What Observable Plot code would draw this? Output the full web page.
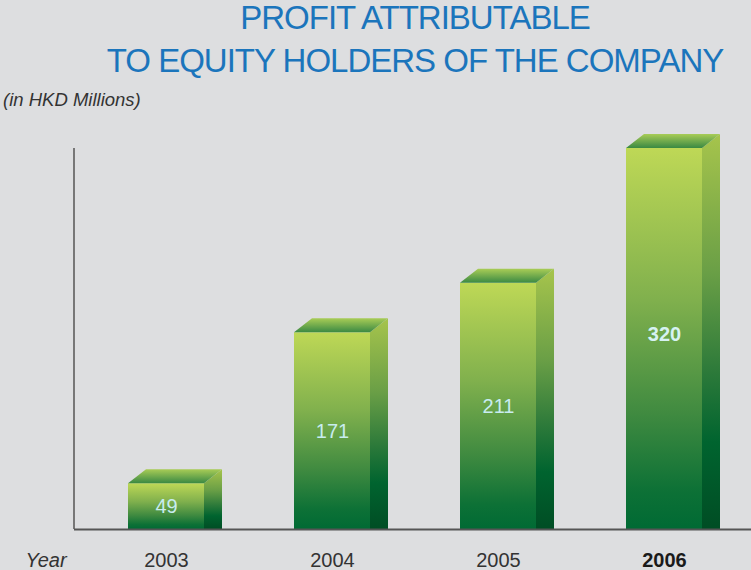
<!DOCTYPE html>
<html>
<head>
<meta charset="utf-8">
<script src="https://cdn.jsdelivr.net/npm/d3@7"></script>
<script src="https://cdn.jsdelivr.net/npm/@observablehq/plot@0.6"></script>
<style>
  html, body { margin: 0; padding: 0; background: #dddee0; }
  #wrap { width: 751px; height: 570px; position: relative; overflow: hidden; background: #dddee0; font-family: "Liberation Sans", Arial, sans-serif; }
  #header { position: relative; height: 115px; }
  .title { position: absolute; left: 415px; transform: translateX(-50%); white-space: nowrap; color: #1b75bc; font-size: 33px; line-height: 33px; letter-spacing: -1px; }
  #sub { position: absolute; left: 3px; top: 91px; font-size: 18.5px; line-height: 18px; font-style: italic; color: #333; white-space: nowrap; }
  #chart svg { display: block; }
</style>
</head>
<body>
<div id="wrap">
  <div id="header">
    <div class="title" style="top:1px">PROFIT ATTRIBUTABLE</div>
    <div class="title" style="top:44px">TO EQUITY HOLDERS OF THE COMPANY</div>
    <div id="sub">(in HKD Millions)</div>
  </div>
  <div id="chart"></div>
</div>
<script>
// ---- data ----
const years = ["2003", "2004", "2005", "2006"];
const profits = [49, 171, 211, 320];
const highlightYear = "2006";
const axisLabel = "Year";
// ---- scale settings ----
const yBase = 12;   // value at the baseline of the chart
const yTop = 320;

const data = years.map((year, i) => ({year, value: profits[i]}));

const DX = 18, DY = -14; // 3D depth in pixels

const defsMark = () => {
  const g = d3.create("svg:g");
  const defs = g.append("defs");
  const grad = (id, stops) => {
    const lg = defs.append("linearGradient").attr("id", id)
      .attr("x1", 0).attr("y1", 0).attr("x2", 0).attr("y2", 1);
    stops.forEach(([o, c]) => lg.append("stop").attr("offset", o).attr("stop-color", c));
  };
  grad("gFront", [[0, "#bed856"], [0.4, "#80b04d"], [0.7, "#3f8a40"], [0.9, "#0d7136"], [1, "#006a34"]]);
  grad("gSide", [[0, "#a6c44c"], [0.35, "#6a9f46"], [0.6, "#2d7a3a"], [0.78, "#00642f"], [1, "#004d24"]]);
  grad("gTop", [[0, "#a8cc56"], [1, "#3a8943"]]);
  return g.node();
};

const depthMark = (index, scales, values, dims) => {
  const g = d3.create("svg:g");
  const x = scales.x, y = scales.y;
  const bw = typeof x.bandwidth === "function" ? x.bandwidth() : scales.scales.x.bandwidth;
  for (const d of data) {
    const x0 = x(d.year), x1 = x0 + bw;
    const yt = y(d.value), yb = y(yBase);
    g.append("path")
      .attr("d", `M${x1},${yt}L${x1 + DX},${yt + DY}L${x1 + DX},${yb}L${x1},${yb}Z`)
      .attr("fill", "url(#gSide)");
    g.append("path")
      .attr("d", `M${x0},${yt}L${x0 + DX},${yt + DY}L${x1 + DX},${yt + DY}L${x1},${yt}Z`)
      .attr("fill", "url(#gTop)");
  }
  // vertical axis line
  g.append("line")
    .attr("x1", dims.marginLeft).attr("x2", dims.marginLeft)
    .attr("y1", y(yTop)).attr("y2", y(yBase))
    .attr("stroke", "#555").attr("stroke-width", 1.5);
  return g.node();
};

const chart = Plot.plot({
  width: 751,
  height: 455,
  marginLeft: 74,
  marginRight: 0,
  marginTop: 33,
  marginBottom: 41,
  style: {background: "transparent", fontFamily: "Liberation Sans, Arial, sans-serif", overflow: "visible"},
  x: {type: "band", domain: years, range: [74, 755], paddingInner: 0.543, paddingOuter: 0.319, axis: null},
  y: {domain: [yBase, yTop], axis: null},
  marks: [
    defsMark,
    Plot.barY(data, {x: "year", y1: yBase, y2: "value", fill: "url(#gFront)"}),
    depthMark,
    Plot.ruleY([yBase], {stroke: "#555", strokeWidth: 2}),
    Plot.text(data.filter(d => d.year !== highlightYear), {
      x: "year", y: d => (d.value + yBase) / 2, dy: 0, text: d => String(d.value),
      fill: "#c8ecf0", fontSize: 20
    }),
    Plot.text(data.filter(d => d.year === highlightYear), {
      x: "year", y: d => (d.value + yBase) / 2, dy: -4, text: d => String(d.value),
      fill: "#d6f2f2", fontSize: 20, fontWeight: "bold"
    }),
    Plot.text(data.filter(d => d.year !== highlightYear), {
      x: "year", y: yBase, dy: 31, text: "year", fill: "#333", fontSize: 20
    }),
    Plot.text(data.filter(d => d.year === highlightYear), {
      x: "year", y: yBase, dy: 31, text: "year", fill: "#1a1a1a", fontSize: 20, fontWeight: "bold"
    }),
    Plot.text([axisLabel], {
      frameAnchor: "bottom-left", textAnchor: "start", lineAnchor: "middle", dx: -49, dy: 31, text: d => d,
      fill: "#333", fontSize: 20, fontStyle: "italic"
    })
  ]
});
document.getElementById("chart").appendChild(chart);
</script>
</body>
</html>
